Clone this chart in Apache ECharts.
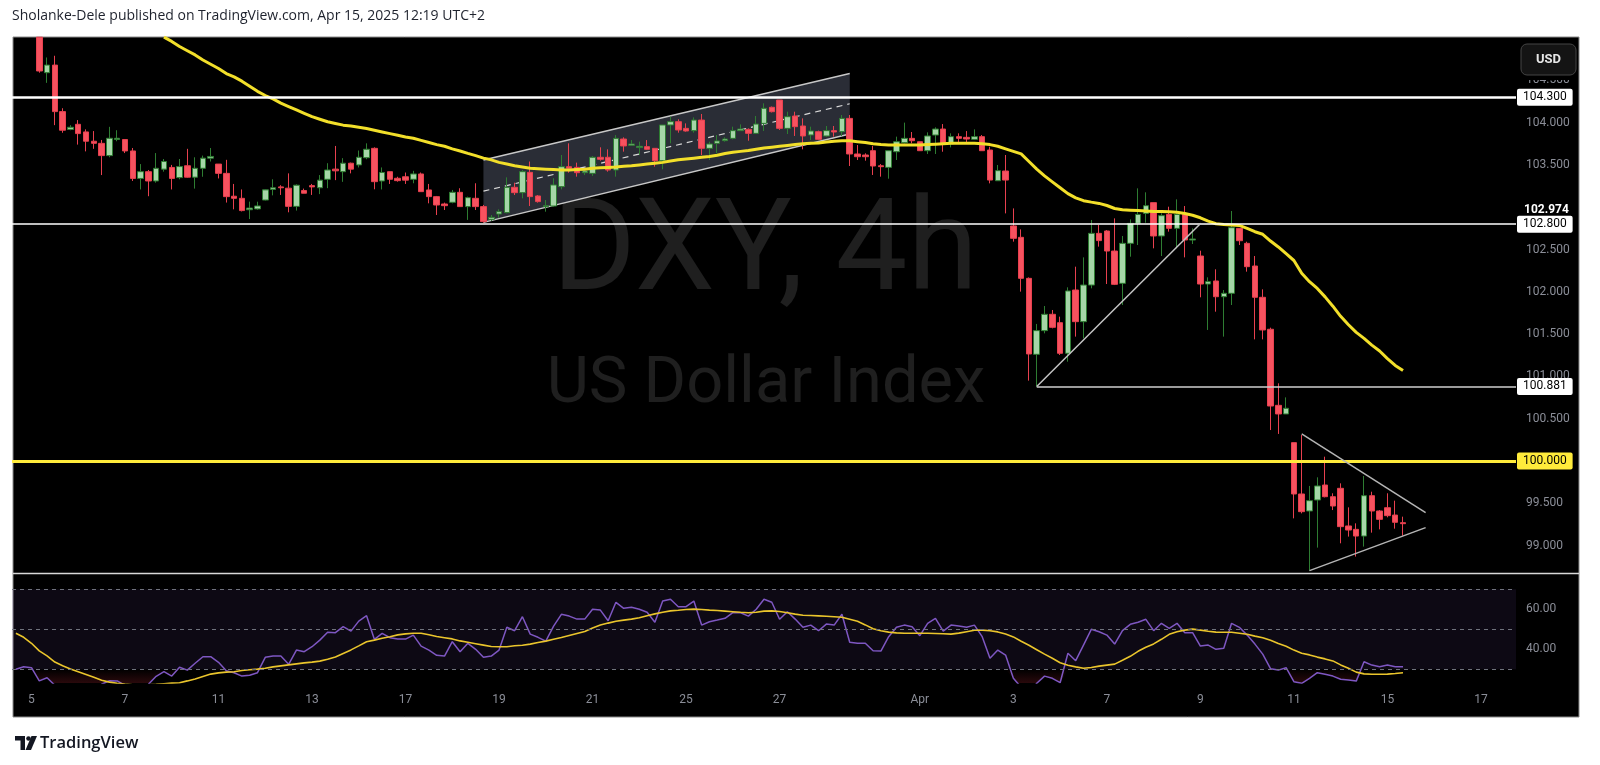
<!DOCTYPE html>
<html><head><meta charset="utf-8">
<script src="https://cdn.jsdelivr.net/npm/echarts@6/dist/echarts.min.js"></script>
<style>html,body{margin:0;padding:0;background:#fff;}#chart{width:1600px;height:765px;}</style>
</head><body><div id="chart"></div>
<script>
// ---------- DATA ----------
const firstBar = -2;          // first category of the axis
const lastBar = 190;          // last category (empty space on the right)
const candleStartBar = 1;
const opens = [105.01,104.59,104.68,104.13,103.92,103.98,103.89,103.78,103.755,103.61,103.80,103.80,103.665,103.34,103.42,103.31,103.45,103.47,103.35,103.49,
103.355,103.46,103.58,103.51,103.40,103.13,103.105,102.97,102.98,103.085,103.21,103.24,103.225,103.01,103.197,103.255,103.23,103.33,103.45,103.42,
103.52,103.50,103.585,103.696,103.31,103.42,103.342,103.36,103.33,103.393,103.204,103.125,103.038,103.058,103.176,103.007,103.105,103.007,102.857,102.92,
102.936,103.235,103.172,103.412,103.133,103.007,103.014,103.243,103.479,103.471,103.408,103.40,103.59,103.59,103.44,103.806,103.732,103.705,103.716,103.696,
103.55,103.972,104.011,103.932,103.905,104.03,103.696,103.755,103.787,103.814,103.905,103.92,103.873,103.991,104.181,104.267,103.932,104.078,103.96,103.854,
103.893,103.842,103.905,103.893,104.05,103.629,103.617,103.668,103.49,103.471,103.656,103.763,103.814,103.774,103.668,103.853,103.924,103.747,103.834,103.826,
103.802,103.834,103.676,103.313,103.428,102.778,102.644,102.159,101.261,101.541,101.734,101.635,101.273,102.021,101.647,102.08,102.691,102.719,102.482,102.1,
102.573,102.809,102.927,103.054,102.66,102.915,102.75,102.915,102.612,102.423,102.092,102.128,101.942,101.982,102.75,102.573,102.305,101.935,101.557,100.658,
100.556,100.217,99.61,99.409,99.539,99.716,99.578,99.677,99.232,99.192,99.113,99.59,99.409,99.448,99.361,99.271];
const highs = [105.01,104.77,104.79,104.17,103.97,104.03,103.92,103.90,103.795,103.95,103.91,103.80,103.70,103.51,103.44,103.64,103.57,103.50,103.57,103.69,
103.59,103.61,103.70,103.51,103.56,103.275,103.21,103.066,103.065,103.21,103.33,103.26,103.40,103.27,103.22,103.275,103.38,103.52,103.724,103.58,
103.527,103.67,103.755,103.708,103.47,103.42,103.36,103.41,103.43,103.41,103.275,103.133,103.054,103.204,103.224,103.125,103.283,103.027,102.908,102.975,
103.353,103.29,103.44,103.54,103.144,103.085,103.342,103.617,103.755,103.527,103.46,103.605,103.708,103.684,103.853,103.826,103.794,103.775,103.794,103.696,
103.972,104.07,104.039,103.991,104.062,104.102,103.775,103.853,103.826,103.952,103.979,103.932,104.078,104.228,104.19,104.267,104.129,104.129,104.05,103.952,
103.905,103.96,103.96,104.09,104.09,103.735,103.637,103.724,103.51,103.668,103.834,104.0,103.889,103.774,103.885,103.944,103.983,103.873,103.873,103.9,
103.92,103.853,103.715,103.499,103.617,102.986,102.738,102.17,101.62,101.832,101.785,101.706,102.053,102.297,102.407,102.849,102.79,102.73,102.868,102.66,
102.856,103.223,103.176,103.054,102.928,103.006,103.093,103.014,102.75,102.486,102.171,102.266,102.021,102.955,102.75,102.592,102.423,102.029,101.576,100.918,
100.752,100.217,100.307,99.705,99.807,100.051,99.618,99.736,99.452,99.263,99.823,99.637,99.42,99.618,99.531,99.342];
const lows = [104.59,104.47,103.97,103.88,103.91,103.74,103.66,103.69,103.38,103.59,103.78,103.64,103.31,103.21,103.13,103.29,103.42,103.21,103.33,103.35,
103.22,103.36,103.54,103.34,103.055,102.975,102.95,102.86,102.97,103.08,103.14,103.145,102.94,102.96,103.165,103.145,103.155,103.225,103.32,103.30,
103.40,103.47,103.567,103.212,103.21,103.275,103.302,103.275,103.283,103.184,103.046,102.908,102.967,103.046,103.007,102.85,102.967,102.818,102.837,102.876,
102.928,103.144,103.105,103.014,103.054,102.947,103.007,103.211,103.408,103.361,103.38,103.37,103.55,103.42,103.361,103.657,103.732,103.617,103.676,103.479,
103.448,103.755,103.881,103.893,103.881,103.617,103.558,103.637,103.775,103.802,103.901,103.786,103.865,103.901,104.12,103.913,103.865,103.842,103.684,103.794,
103.794,103.834,103.834,103.842,103.487,103.558,103.55,103.381,103.361,103.337,103.558,103.755,103.755,103.668,103.629,103.629,103.656,103.707,103.755,103.755,
103.794,103.668,103.282,103.313,102.927,102.593,102.002,100.95,100.879,101.509,101.568,101.253,101.174,101.47,101.45,102.041,102.534,102.092,102.08,101.844,
102.415,102.553,102.817,102.514,102.423,102.711,102.514,102.407,102.565,101.935,101.549,101.765,101.47,101.844,102.553,102.238,101.438,101.438,100.366,100.32,
100.556,99.322,99.381,98.704,98.976,99.57,99.42,99.027,99.106,98.87,98.988,99.153,99.192,99.334,99.2,99.117];
const closes = [104.61,104.68,104.13,103.91,103.945,103.87,103.78,103.755,103.61,103.815,103.815,103.665,103.34,103.42,103.31,103.46,103.54,103.34,103.48,103.355,
103.46,103.58,103.60,103.40,103.125,103.105,102.96,102.99,103.015,103.205,103.23,103.23,103.01,103.26,103.165,103.24,103.32,103.44,103.43,103.52,
103.45,103.59,103.685,103.302,103.41,103.33,103.314,103.32,103.393,103.184,103.125,103.026,103.018,103.176,103.007,103.113,103.007,102.83,102.88,102.947,
103.235,103.172,103.42,103.125,103.066,103.018,103.263,103.479,103.46,103.408,103.428,103.59,103.566,103.44,103.814,103.724,103.747,103.72,103.684,103.55,
103.972,104.011,103.913,103.901,104.03,103.696,103.747,103.783,103.806,103.905,103.924,103.873,103.983,104.169,104.129,103.932,104.07,103.952,103.842,103.901,
103.802,103.905,103.889,104.05,103.629,103.597,103.597,103.487,103.479,103.668,103.774,103.814,103.786,103.668,103.842,103.924,103.747,103.834,103.814,103.806,
103.834,103.668,103.321,103.432,103.321,102.632,102.159,101.265,101.541,101.734,101.58,101.273,102.01,101.647,102.08,102.691,102.605,102.482,102.088,102.573,
102.809,102.915,103.018,102.66,102.9,102.75,102.915,102.612,102.624,102.092,102.12,101.942,101.982,102.758,102.604,102.297,101.935,101.549,100.65,100.556,
100.623,99.61,99.401,99.531,99.705,99.578,99.468,99.224,99.184,99.113,99.59,99.409,99.31,99.354,99.275,99.259];

// 50-period moving average of price (starts at bar 17)
const maStartBar = 17;
const maValues = [105.01,104.96,104.90,104.85,104.80,104.74,104.69,104.64,104.58,
104.54,104.49,104.43,104.37,104.32,104.28,104.23,104.19,104.15,104.11,
104.07,104.04,104.01,103.99,103.97,103.96,103.945,103.93,103.91,103.89,
103.87,103.85,103.83,103.815,103.79,103.765,103.74,103.72,103.69,103.665,
103.637,103.61,103.58,103.56,103.53,103.51,103.49,103.475,103.46,103.455,
103.45,103.445,103.44,103.44,103.445,103.45,103.46,103.465,103.47,103.475,
103.485,103.49,103.50,103.51,103.52,103.53,103.545,103.56,103.57,103.58,
103.59,103.60,103.615,103.635,103.65,103.66,103.67,103.685,103.70,103.71,
103.72,103.73,103.74,103.75,103.755,103.76,103.77,103.78,103.785,103.785,
103.775,103.765,103.75,103.74,103.735,103.735,103.735,103.735,103.735,103.74,
103.745,103.75,103.755,103.755,103.755,103.755,103.75,103.74,103.72,103.69,
103.66,103.63,103.54,103.45,103.37,103.30,103.23,103.16,103.11,103.077,
103.06,103.045,103.02,102.985,102.97,102.965,102.96,102.955,102.95,102.95,
102.945,102.94,102.925,102.905,102.875,102.835,102.805,102.795,102.79,102.785,
102.75,102.71,102.68,102.60,102.53,102.45,102.37,102.22,102.12,102.04,
101.94,101.83,101.71,101.61,101.52,101.45,101.37,101.30,101.21,101.13,101.07];

// RSI and its moving average, from bar -2
const rsiStartBar = -2;
const rsiValues = [30.0,31.3,30.8,
24.2,25.8,22.0,20.5,19.5,21.0,20.0,19.0,22.5,24.3,
24.2,22.0,21.0,20.5,22.5,26.5,28.8,26.6,31.0,29.6,
33.0,36.3,36.3,33.5,29.3,28.3,26.6,27.0,28.3,36.0,
36.6,36.6,32.5,39.6,38.8,41.3,44.6,48.5,48.3,51.3,
49.1,54.1,56.8,45.0,48.0,45.8,45.1,45.1,47.1,41.6,
39.6,37.0,36.6,43.8,38.8,43.0,40.0,36.0,36.6,39.6,
51.0,49.3,56.3,47.6,46.0,44.1,51.6,57.5,56.6,55.1,
55.1,60.0,59.6,54.3,63.5,60.5,61.0,60.0,58.5,53.5,
64.1,65.0,61.3,61.3,64.1,52.1,53.8,54.6,55.5,58.3,
58.3,56.6,60.0,65.0,63.5,55.0,58.8,55.1,51.0,52.1,
49.3,52.6,52.1,57.5,43.5,43.0,43.0,39.3,39.1,46.3,
51.0,52.1,51.3,46.8,53.0,55.5,49.1,52.1,51.6,51.0,
52.1,46.3,35.5,39.6,37.1,25.5,21.0,17.5,23.0,26.6,
25.5,23.3,38.0,34.3,42.1,50.0,48.8,47.1,42.6,49.3,
52.5,53.5,55.0,49.3,53.0,50.5,53.0,48.3,48.3,41.6,
42.1,40.0,40.5,53.0,51.0,47.1,42.6,37.6,30.3,29.6,
30.8,23.8,23.0,25.5,28.3,27.5,26.6,25.0,24.6,24.1,
33.8,32.1,31.3,32.1,31.3,31.3];
const rsiMaValues = [48.0,46.0,43.0,
39.2,36.7,33.6,31.8,30.2,28.8,27.4,26.0,24.5,23.6,
23.0,22.6,22.3,22.2,22.3,22.5,22.8,23.1,23.3,24.2,
25.2,26.4,27.6,28.2,28.6,28.8,29.4,29.8,30.1,30.5,
31.2,31.7,32.2,32.7,33.2,33.6,34.1,35.0,36.1,37.9,
39.7,41.7,43.8,44.6,45.5,46.3,47.2,47.7,48.0,48.0,
47.3,46.4,45.8,45.2,44.2,43.5,42.8,42.1,41.4,41.3,
41.3,41.8,42.0,42.6,43.4,44.1,45.0,45.9,46.9,47.9,
48.9,50.6,52.1,53.1,54.0,54.6,55.1,55.8,56.8,57.7,
58.5,59.2,59.5,59.9,60.1,59.9,59.6,59.4,59.1,58.8,
58.5,58.3,58.5,59.1,59.2,58.9,58.3,57.6,57.0,56.9,
56.7,56.5,56.3,56.0,55.0,54.0,52.2,50.3,49.3,48.6,
48.2,48.0,48.0,48.0,48.0,47.9,47.8,47.6,48.1,48.8,
49.5,49.6,49.3,48.7,47.6,46.2,44.0,42.0,39.8,37.6,
35.5,33.3,32.0,31.2,30.5,30.9,31.6,32.1,32.6,34.5,
36.5,39.0,41.0,42.7,45.0,47.5,48.8,49.6,50.1,49.6,
49.0,48.6,48.5,48.5,48.0,47.5,46.6,45.8,44.5,42.9,
41.5,39.6,38.0,37.2,36.1,35.2,34.2,32.2,30.5,28.6,
27.7,27.5,27.5,27.6,27.9,28.3];

// tick labels
const dayTickBars = [0,12,24,36,48,60,72,84,96,114,126,138,150,162,174,186];
const dayTickLabels = ['5','7','11','13','17','19','21','25','27','Apr','3','7','9','11','15','17'];
const priceTicks = [99,99.5,100.5,101,101.5,102,102.5,103.5,104,104.5];
const rsiTicks = [40,60];
const rsiLevels = [70,50,30];

// drawings
const levelValues = [104.3, 102.8, 100.0];
const levelLabels = ['104.300','102.800','100.000'];
const lastCloseRef = 102.974;
const supportStartBar = 129, supportValue = 100.881;
const trendBars = [129, 150.05], trendPrices = [100.881, 102.81];
const triUpperBars = [163, 178.9], triUpperPrices = [100.32, 99.39];
const triLowerBars = [164, 178.9], triLowerPrices = [98.704, 99.212];
const channelBars = [58, 105];
const channelUpper = [103.558, 104.58];
const channelLower = [102.821, 103.865];

// ---------- BUILD ----------
const cats = [];
for (let b = firstBar; b <= lastBar; b++) cats.push(String(b));
const labelAtIndex = {};
dayTickBars.forEach((b,i)=>{ labelAtIndex[b - firstBar] = dayTickLabels[i]; });

const candleData = cats.map((c,k)=>{
  const i = k + firstBar - candleStartBar;
  if (i < 0 || i >= opens.length) return '-';
  return [opens[i], closes[i], lows[i], highs[i]];
});
const maData = cats.map((c,k)=>{ const i = k + firstBar - maStartBar; return (i>=0 && i<maValues.length) ? maValues[i] : null; });
const rsiData = cats.map((c,k)=>{ const i = k + firstBar - rsiStartBar; return (i>=0 && i<rsiValues.length) ? rsiValues[i] : null; });
const rsiMaData = cats.map((c,k)=>{ const i = k + firstBar - rsiStartBar; return (i>=0 && i<rsiMaValues.length) ? rsiMaValues[i] : null; });
const osBase = rsiData.map(v => v==null ? null : Math.min(v, 30));
const osFill = rsiData.map(v => v==null ? null : 30 - Math.min(v, 30));

const FONT = 'Roboto, "Noto Sans", sans-serif';
const AXIS_TXT = '#8b8e98';
const levelColors = ['#ffffff','#ffffff','#ffeb3b'];
const levelWidths = [2.5, 1.5, 3];
const boxLabel = (txt, bg) => ({show:true, position:'end', formatter: txt, color:'#000', backgroundColor:bg,
  padding:[3,6,2,6], borderRadius:2, fontSize:12, fontFamily:FONT, distance:1});

const drawLines = [];
levelValues.forEach((v,i)=>{
  drawLines.push({yAxis: v, lineStyle:{color: levelColors[i], width: levelWidths[i], type:'solid'}, label: boxLabel(levelLabels[i], levelColors[i])});
});
drawLines.push([{coord:[supportStartBar, supportValue], lineStyle:{color:'#cfcfcf', width:1.5, type:'solid'}, label: boxLabel(supportValue.toFixed(3), '#ffffff')},
                {coord:[lastBar + 0.5, supportValue]}]);
drawLines.push({yAxis: lastCloseRef, lineStyle:{color:'rgba(0,0,0,0)', width:0}, label:{show:true, position:'end', formatter: lastCloseRef.toFixed(3), color:'#ffffff', fontWeight:'bold', fontSize:12, fontFamily:FONT, padding:[0,0,0,7], distance:1}});
const seg = (xs, ys, color) => [{coord:[xs[0], ys[0]], lineStyle:{color, width:1.5, type:'solid'}, label:{show:false}}, {coord:[xs[1], ys[1]]}];
drawLines.push(seg(trendBars, trendPrices, '#c4c4c4'));
drawLines.push(seg(triUpperBars, triUpperPrices, '#b5b5b5'));
drawLines.push(seg(triLowerBars, triLowerPrices, '#b5b5b5'));

const chart = echarts.init(document.getElementById('chart'), null, {renderer:'canvas'});
const option = {
  animation: false,
  backgroundColor: '#ffffff',
  textStyle: {fontFamily: FONT},
  grid: [
    {left: 12, width: 1504, top: 37, height: 536},
    {left: 12, width: 1504, top: 574, height: 109}
  ],
  xAxis: [
    {type:'category', gridIndex:0, data:cats, boundaryGap:true, show:false},
    {type:'category', gridIndex:1, data:cats, boundaryGap:true,
      axisLine:{show:false}, axisTick:{show:false}, splitLine:{show:false},
      axisLabel:{interval:(idx)=> labelAtIndex[idx] !== undefined, formatter:(v, idx)=> labelAtIndex[idx] || '',
        color:AXIS_TXT, fontSize:12, margin:11, fontFamily:FONT}},
    {type:'value', gridIndex:0, min:firstBar - 0.5, max:lastBar + 0.5, show:false, splitLine:{show:false}}
  ],
  yAxis: [
    {type:'value', gridIndex:0, position:'right', min:98.676, max:105.012,
      splitLine:{show:false}, axisLine:{show:false}, axisTick:{show:false},
      axisLabel:{customValues: priceTicks, formatter: v => Number(v).toFixed(3), color:AXIS_TXT, fontSize:12, margin:10, fontFamily:FONT}},
    {type:'value', gridIndex:1, position:'right', min:23.15, max:77.65,
      splitLine:{show:false}, axisLine:{show:false}, axisTick:{show:false},
      axisLabel:{customValues: rsiTicks, formatter: v => Number(v).toFixed(2), color:AXIS_TXT, fontSize:12, margin:10, fontFamily:FONT}}
  ],
  graphic: [
    {type:'rect', z:-10, silent:true, shape:{x:13, y:37, width:1566, height:680}, style:{fill:'#000', stroke:'#8a8a8a', lineWidth:1}},
    {type:'text', z:-9, silent:true, style:{text:'DXY, 4h', x:765, y:257, align:'center', verticalAlign:'middle', font:'128px Roboto, "Noto Sans", sans-serif', fill:'#1f1f1f'}},
    {type:'text', z:-9, silent:true, style:{text:'US Dollar Index', x:766, y:386, align:'center', verticalAlign:'middle', font:'65px Roboto, "Noto Sans", sans-serif', fill:'#1f1f1f'}},
    {type:'line', z:20, silent:true, shape:{x1:13, y1:573.5, x2:1579, y2:573.5}, style:{stroke:'#d8d8d8', lineWidth:1.5}},
    {type:'rect', z:20, silent:true, shape:{x:1518, y:38, width:60, height:42}, style:{fill:'#000'}},
    {type:'rect', z:21, silent:true, shape:{x:1521, y:44, width:55, height:31, r:6}, style:{fill:'#141414', stroke:'#444', lineWidth:1}},
    {type:'text', z:22, silent:true, style:{text:'USD', x:1548.5, y:60, align:'center', verticalAlign:'middle', font:'bold 13px Roboto, sans-serif', fill:'#e6e6e6'}},
    {type:'text', z:5, silent:true, style:{text:'Sholanke-Dele published on TradingView.com, Apr 15, 2025 12:19 UTC+2', x:12, y:16, verticalAlign:'middle', font:'14px "Open Sans", "Noto Sans", sans-serif', fill:'#1e222d'}},
    {type:'polygon', z:5, silent:true, shape:{points:[[15,736],[25,736],[25,750],[20.5,750],[20.5,740.5],[15,740.5]]}, style:{fill:'#131722'}},
    {type:'circle', z:5, silent:true, shape:{cx:28.5, cy:738.5, r:2.3}, style:{fill:'#131722'}},
    {type:'polygon', z:5, silent:true, shape:{points:[[31.5,736],[37,736],[31,750],[25.5,750]]}, style:{fill:'#131722'}},
    {type:'text', z:5, silent:true, style:{text:'TradingView', x:40, y:743, verticalAlign:'middle', font:'600 16.5px "Open Sans", "Noto Sans", sans-serif', fill:'#131722'}}
  ],
  series: [
    {name:'channel', type:'custom', xAxisIndex:2, yAxisIndex:0, z:1, silent:true,
      data:[[channelBars[0], channelUpper[0]]],
      renderItem:(params, api)=>{
        const u0 = api.coord([channelBars[0], channelUpper[0]]), u1 = api.coord([channelBars[1], channelUpper[1]]);
        const l0 = api.coord([channelBars[0], channelLower[0]]), l1 = api.coord([channelBars[1], channelLower[1]]);
        const m0 = [(u0[0]+l0[0])/2, (u0[1]+l0[1])/2], m1 = [(u1[0]+l1[0])/2, (u1[1]+l1[1])/2];
        return {type:'group', children:[
          {type:'polygon', shape:{points:[u0,u1,l1,l0]}, style:{fill:'#2a2d36'}},
          {type:'line', shape:{x1:u0[0],y1:u0[1],x2:u1[0],y2:u1[1]}, style:{stroke:'#c8c8c8', lineWidth:1.4}},
          {type:'line', shape:{x1:l0[0],y1:l0[1],x2:l1[0],y2:l1[1]}, style:{stroke:'#c8c8c8', lineWidth:1.4}},
          {type:'line', shape:{x1:m0[0],y1:m0[1],x2:m1[0],y2:m1[1]}, style:{stroke:'#d8d8d8', lineWidth:1.2, lineDash:[6,5]}}
        ]};
      }},
    {name:'DXY', type:'candlestick', xAxisIndex:0, yAxisIndex:0, z:2, clip:true, barWidth:6, silent:true,
      data: candleData,
      itemStyle:{color:'#a5d6a7', color0:'#f7525f', borderColor:'#2e7d32', borderColor0:'#e8404f', borderWidth:1}},
    {name:'MA', type:'line', xAxisIndex:0, yAxisIndex:0, z:3, clip:true, symbol:'none', silent:true,
      data: maData, lineStyle:{color:'#f2df2a', width:3}, connectNulls:false},
    {name:'drawings', type:'line', xAxisIndex:2, yAxisIndex:0, z:4, clip:false, data:[], silent:true,
      markLine:{symbol:['none','none'], silent:true, animation:false, data: drawLines}},
    {name:'osBase', type:'line', xAxisIndex:1, yAxisIndex:1, stack:'os', symbol:'none', silent:true, z:1,
      data: osBase, lineStyle:{width:0, opacity:0},
      markArea:{silent:true, itemStyle:{color:'rgba(126,87,194,0.10)'}, data:[[{yAxis:30},{yAxis:70}]]},
      markLine:{symbol:['none','none'], silent:true, label:{show:false},
        data: rsiLevels.map(v=>({yAxis:v, lineStyle:{color:'#6f727c', width:1, type:[4,4]}}))}},
    {name:'osFill', type:'line', xAxisIndex:1, yAxisIndex:1, stack:'os', symbol:'none', silent:true, z:1,
      data: osFill, lineStyle:{width:0, opacity:0},
      areaStyle:{color: new echarts.graphic.LinearGradient(0,0,0,1,[{offset:0,color:'rgba(242,54,69,0)'},{offset:1,color:'rgba(242,54,69,0.45)'}])}},
    {name:'RSI', type:'line', xAxisIndex:1, yAxisIndex:1, symbol:'none', silent:true, z:3,
      data: rsiData, lineStyle:{color:'#7e57c2', width:1.5}},
    {name:'RSI MA', type:'line', xAxisIndex:1, yAxisIndex:1, symbol:'none', silent:true, z:3,
      data: rsiMaData, lineStyle:{color:'#eac52c', width:1.6}}
  ]
};
chart.setOption(option);
</script>
</body></html>
